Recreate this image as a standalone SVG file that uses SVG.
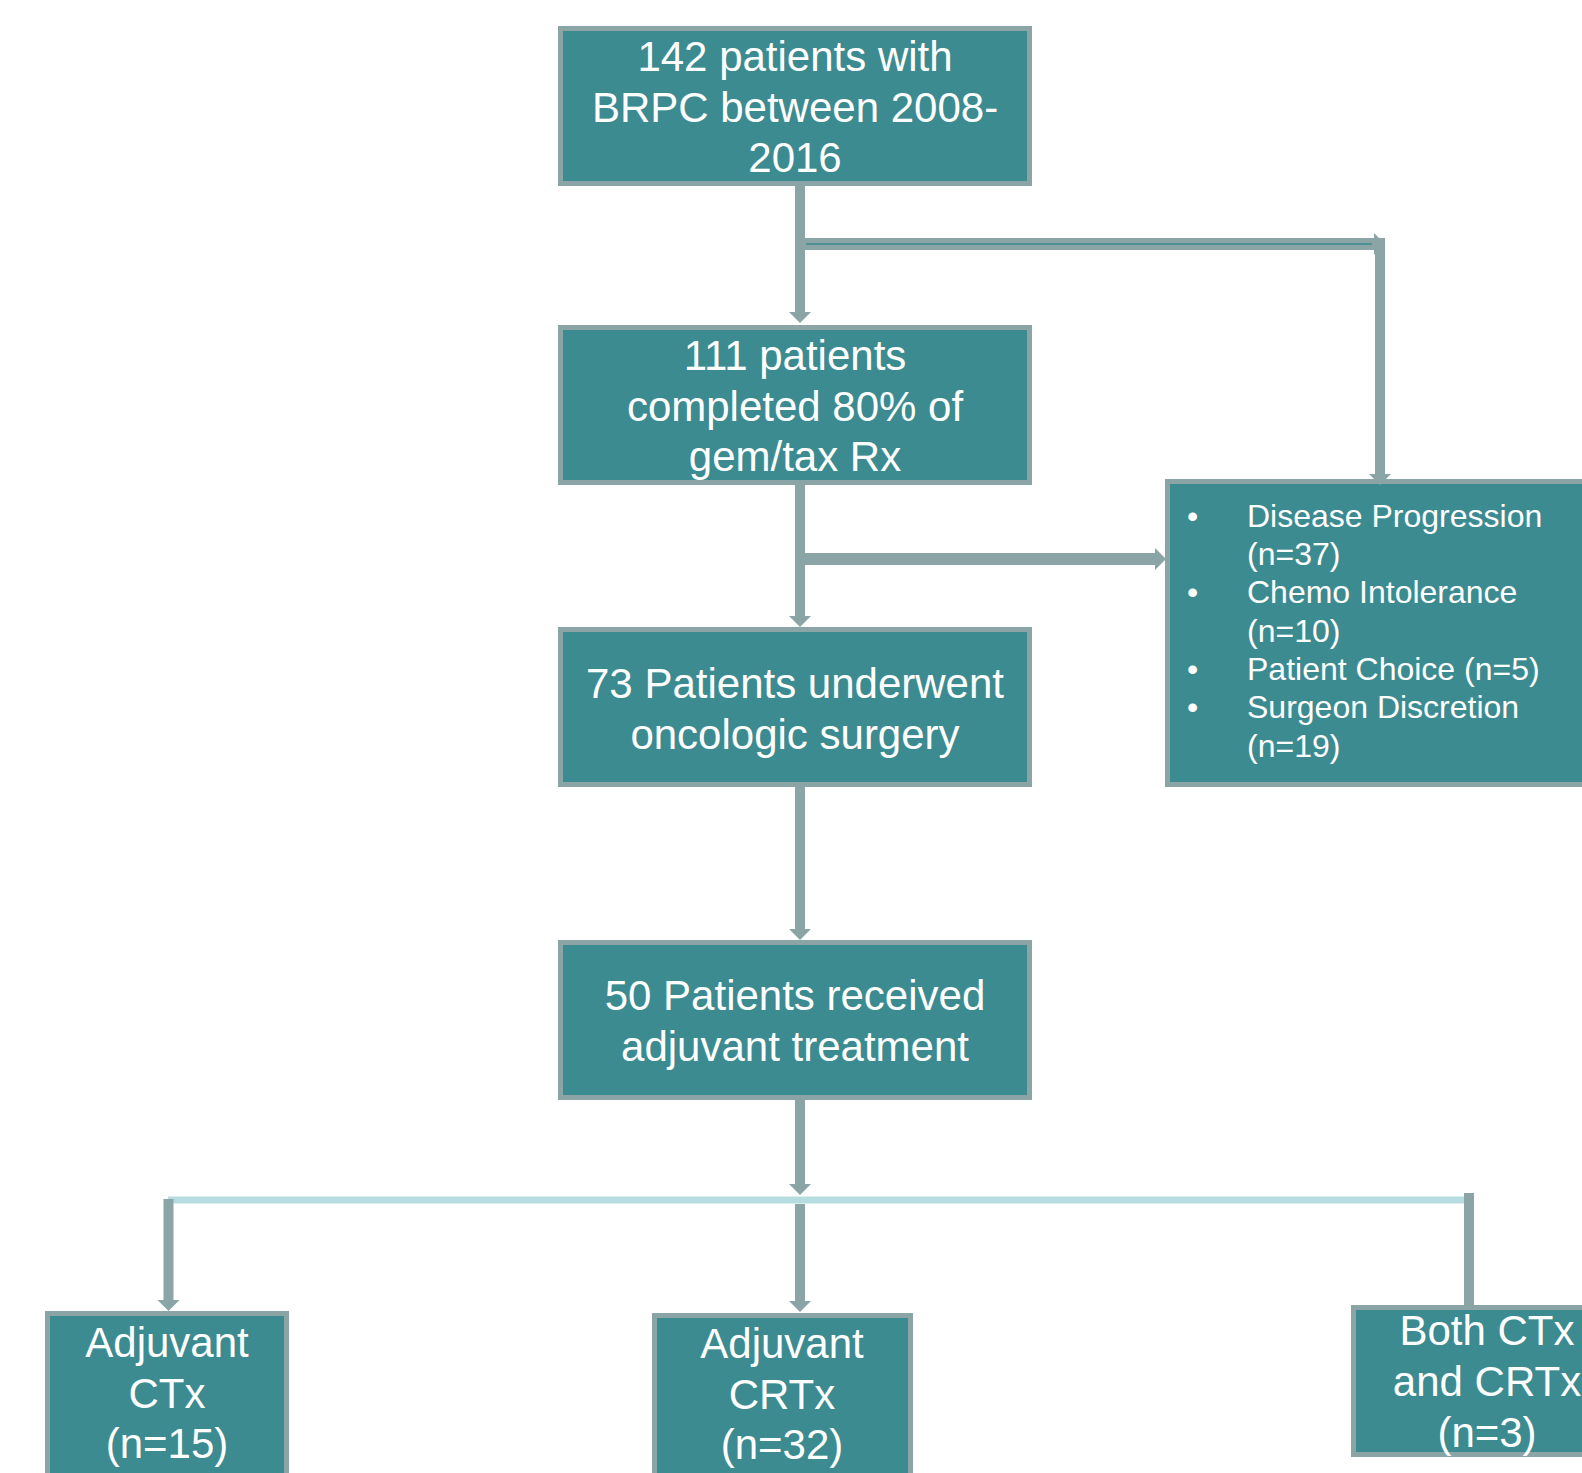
<svg xmlns="http://www.w3.org/2000/svg" width="1582" height="1473" viewBox="0 0 1582 1473">
<style>
.box{fill:#3c8b91;stroke:#8ba5a7;stroke-width:5}
.t{font-family:"Liberation Sans",Arial,sans-serif;font-size:42px;fill:#ffffff;text-anchor:middle}
.s{font-family:"Liberation Sans",Arial,sans-serif;font-size:32px;fill:#ffffff}
.c{stroke:#8ba5a7;stroke-width:10;fill:none}
.h{stroke:#8ba5a7;stroke-width:12;fill:none}
.stripe{stroke:#3c8b91;stroke-width:1.5;fill:none}
.blue{stroke:#b5dde0;stroke-width:7;fill:none}
</style>
<defs>
<marker id="ah" markerUnits="userSpaceOnUse" markerWidth="12" markerHeight="24" refX="0" refY="11" orient="auto" viewBox="0 0 12 22">
<path d="M0,0 L11,11 L0,22 Z" fill="#8ba5a7"/>
</marker>
</defs>
<rect width="1582" height="1473" fill="#ffffff"/>
<g id="n1"><rect class="box" x="560.5" y="28.5" width="469" height="155"/>
<text class="t" x="795" y="71">142 patients with</text>
<text class="t" x="795" y="121.5">BRPC between 2008-</text>
<text class="t" x="795" y="172">2016</text></g>
<g id="n2"><rect class="box" x="560.5" y="327.5" width="469" height="155"/>
<text class="t" x="795" y="370">111 patients</text>
<text class="t" x="795" y="420.5">completed 80% of</text>
<text class="t" x="795" y="471">gem/tax Rx</text></g>
<g id="n3"><rect class="box" x="560.5" y="629.5" width="469" height="155"/>
<text class="t" x="795" y="698">73 Patients underwent</text>
<text class="t" x="795" y="749">oncologic surgery</text></g>
<g id="n4"><rect class="box" x="560.5" y="942.5" width="469" height="155"/>
<text class="t" x="795" y="1010">50 Patients received</text>
<text class="t" x="795" y="1061">adjuvant treatment</text></g>
<g id="n5"><rect class="box" x="1167.5" y="481.5" width="450" height="303"/>
<text class="s" x="1192.5" y="527" text-anchor="middle">•</text>
<text class="s" x="1247" y="527">Disease Progression</text>
<text class="s" x="1247" y="565">(n=37)</text>
<text class="s" x="1192.5" y="603" text-anchor="middle">•</text>
<text class="s" x="1247" y="603">Chemo Intolerance</text>
<text class="s" x="1247" y="642">(n=10)</text>
<text class="s" x="1192.5" y="680" text-anchor="middle">•</text>
<text class="s" x="1247" y="680">Patient Choice (n=5)</text>
<text class="s" x="1192.5" y="718" text-anchor="middle">•</text>
<text class="s" x="1247" y="718">Surgeon Discretion</text>
<text class="s" x="1247" y="757">(n=19)</text></g>
<g id="n6"><rect class="box" x="47.5" y="1313.5" width="239" height="200"/>
<text class="t" x="167" y="1357">Adjuvant</text>
<text class="t" x="167" y="1408">CTx</text>
<text class="t" x="167" y="1458">(n=15)</text></g>
<g id="n7"><rect class="box" x="654.5" y="1315.5" width="256" height="200"/>
<text class="t" x="782" y="1358">Adjuvant</text>
<text class="t" x="782" y="1409">CRTx</text>
<text class="t" x="782" y="1459">(n=32)</text></g>
<g id="n8"><rect class="box" x="1353.5" y="1307.5" width="300" height="147"/>
<text class="t" x="1487" y="1345">Both CTx</text>
<text class="t" x="1487" y="1396">and CRTx</text>
<text class="t" x="1487" y="1447">(n=3)</text></g>
<g id="connectors">
<line class="c" x1="800" y1="186" x2="800" y2="312" marker-end="url(#ah)"/>
<line class="h" x1="805" y1="244" x2="1374" y2="244" marker-end="url(#ah)"/>
<line class="stripe" x1="806" y1="244" x2="1372" y2="244"/>
<line class="c" x1="1380" y1="238" x2="1380" y2="474" marker-end="url(#ah)"/>
<line class="c" x1="800" y1="485" x2="800" y2="616" marker-end="url(#ah)"/>
<line class="h" x1="805" y1="559" x2="1155" y2="559" marker-end="url(#ah)"/>
<line class="c" x1="800" y1="787" x2="800" y2="929" marker-end="url(#ah)"/>
<line class="blue" x1="168" y1="1200" x2="1464" y2="1200"/>
<line class="c" x1="800" y1="1100" x2="800" y2="1184" marker-end="url(#ah)"/>
<line class="c" x1="800" y1="1204" x2="800" y2="1301" marker-end="url(#ah)"/>
<line class="c" x1="168.5" y1="1199" x2="168.5" y2="1300" marker-end="url(#ah)"/>
<line class="c" x1="1469" y1="1193" x2="1469" y2="1306"/>
</g>
</svg>
